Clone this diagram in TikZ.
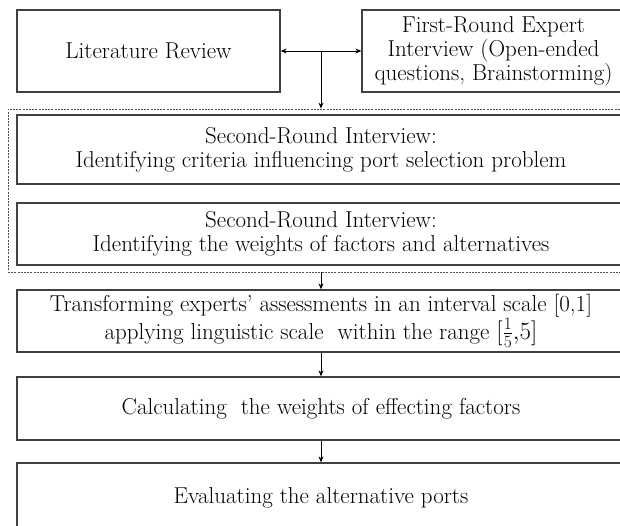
\documentclass[tikz,border=0pt]{standalone}
\usepackage{fontspec}
\usetikzlibrary{positioning,calc,arrows.meta}

\begin{document}
\begin{tikzpicture}[x=1pt,y=-1pt,
  box/.style={draw=black!75, line width=1.3pt, align=center, inner sep=0pt,
    minimum width=608pt, font=\fontsize{23}{24}\selectfont},
  half/.style={box, minimum width=263pt, minimum height=82pt},
  frame/.style={draw=black!70, line width=0.8pt, dash pattern=on 2pt off 1.2pt,
    minimum width=626pt, minimum height=163pt, inner sep=0pt},
  link/.style={-{Stealth[length=6pt,width=5pt]}, line width=0.8pt}]
\useasboundingbox (0,0) rectangle (620,525);
% first row
\node[half] (lit) at (148.5,51) {Literature Review};
\node[half] (first) at (493.5,51) {First-Round Expert\\Interview (Open-ended\\questions, Brainstorming)};
\coordinate (split) at ($(lit.east)!0.5!(first.west)$);
% second round, inside the dashed frame
\node[frame] (grp) at (321,190.5) {};
\node[box, minimum height=69pt] (crit) at (321,149.5)
  {Second-Round Interview:\\Identifying criteria influencing port selection problem};
\node[box, minimum height=62pt] (wgt) at (321,234)
  {Second-Round Interview:\\Identifying the weights of factors and alternatives};
% remaining steps
\node[box, minimum height=62pt] (trans) at (321,321)
  {Transforming experts' assessments in an interval scale [0,1]\\applying linguistic scale \ within the range $[\frac{1}{5}{,}5]$};
\node[box, minimum height=63pt] (calc) at (321,408.5)
  {Calculating \ the weights of effecting factors};
\node[box, minimum height=70pt] (eval) at (321,498)
  {Evaluating the alternative ports};
% connectors
\draw[link, {Stealth[length=6pt,width=5pt]}-{Stealth[length=6pt,width=5pt]}] (lit) -- (first);
\draw[link] (split) -- (grp.north);
\draw[link] (grp.south) -- (trans.north);
\draw[link] (trans) -- (calc);
\draw[link] (calc) -- (eval);
\end{tikzpicture}
\end{document}
